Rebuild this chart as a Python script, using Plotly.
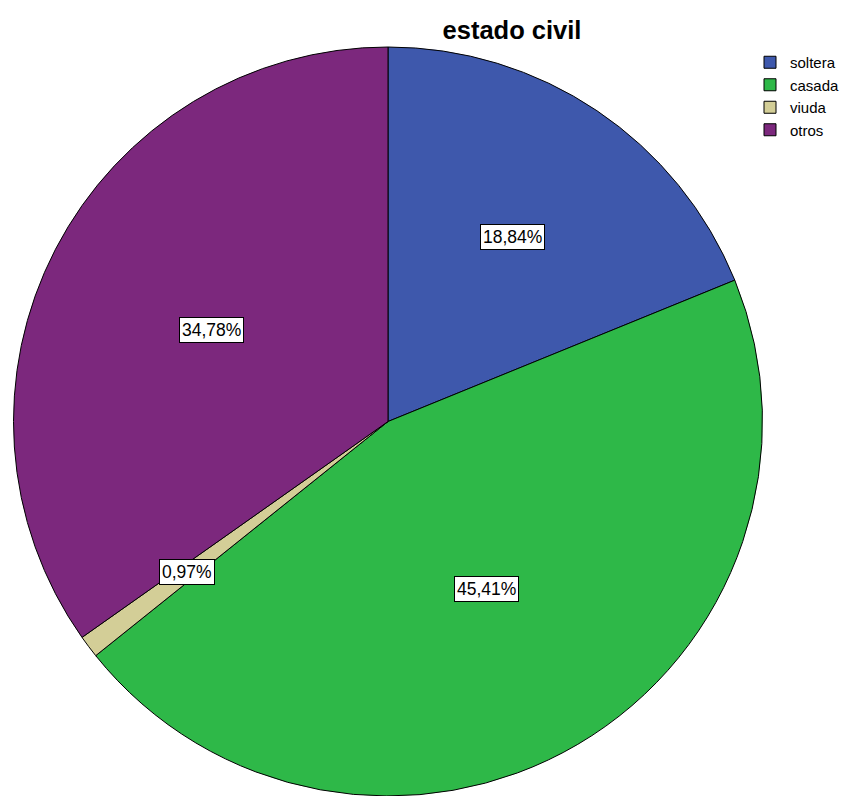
import math
import plotly.graph_objects as go

categories = ["soltera", "casada", "viuda", "otros"]
values = [18.84, 45.41, 0.97, 34.78]
value_labels = ["18,84%", "45,41%", "0,97%", "34,78%"]
colors = ["#3E58AC", "#2EB848", "#D3CE97", "#7C287D"]
label_radius = [0.595, 0.52, 0.67, 0.53]

W, H = 854, 796
dom_x = [12 / W, 764 / W]
dom_y = [0.0, 1 - 47 / H]

fig = go.Figure(go.Pie(
    labels=categories,
    values=values,
    sort=False,
    direction="clockwise",
    rotation=0,
    marker=dict(colors=colors, line=dict(color="black", width=1)),
    textinfo="none",
    hoverinfo="label+percent",
    domain=dict(x=dom_x, y=dom_y),
))

# label positions derived from slice angles
R = min((dom_x[1] - dom_x[0]) * W, (dom_y[1] - dom_y[0]) * H) / 2
cx = (dom_x[0] + dom_x[1]) / 2 * W
cy = (1 - (dom_y[0] + dom_y[1]) / 2) * H
total = sum(values)
cum = 0
for v, lab, rf in zip(values, value_labels, label_radius):
    mid = (cum + v / 2) / total * 2 * math.pi
    cum += v
    px = cx + math.sin(mid) * R * rf
    py = cy - math.cos(mid) * R * rf
    fig.add_annotation(
        x=px / W, y=1 - py / H, xref="paper", yref="paper",
        xanchor="center", yanchor="middle",
        text=lab, showarrow=False,
        font=dict(family="Liberation Sans, Arial", size=17.5, color="black"),
        bgcolor="white", bordercolor="black", borderwidth=1, borderpad=2,
    )

fig.update_layout(
    width=W, height=H,
    margin=dict(l=0, r=0, t=0, b=0),
    paper_bgcolor="white",
    title=dict(text="<b>estado civil</b>", x=512 / W, xanchor="center",
               y=1 - 30 / H, yanchor="middle",
               font=dict(family="Liberation Sans, Arial", size=25.5, color="black")),
    legend=dict(x=750 / W, y=1 - 46 / H, xanchor="left", yanchor="top",
                font=dict(family="Liberation Sans, Arial", size=15, color="black"),
                bgcolor="rgba(0,0,0,0)", tracegroupgap=0),
    showlegend=True,
)

fig.write_html(
    "out.html",
    config={"displayModeBar": False},
    post_script="document.body.style.margin='0';document.body.style.overflow='hidden';",
)
